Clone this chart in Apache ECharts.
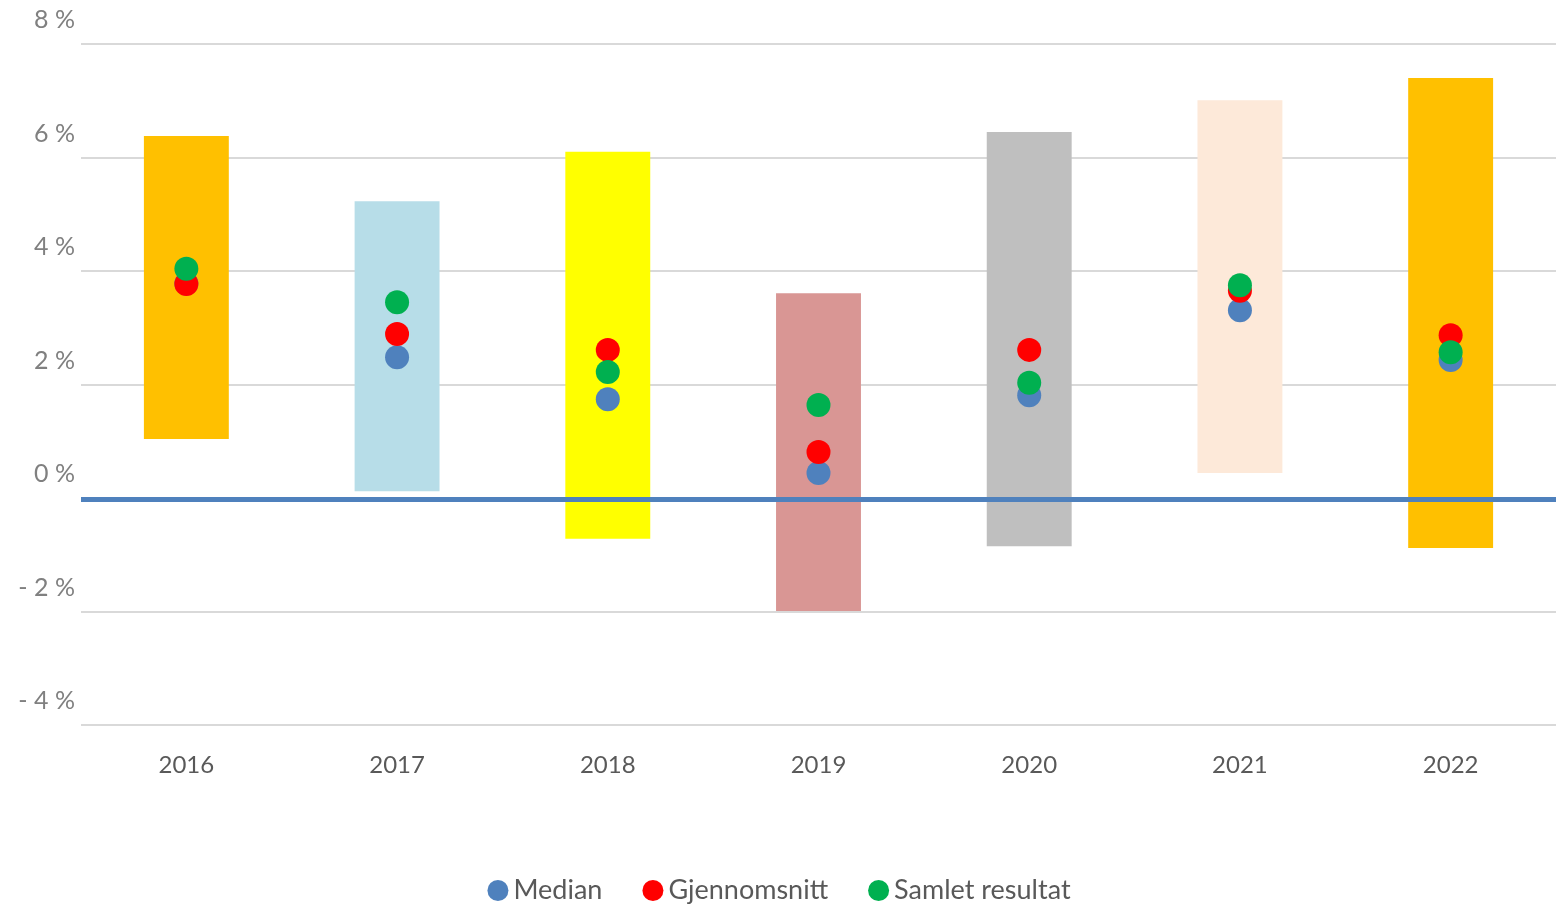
<!DOCTYPE html>
<html lang="no">
<head>
    <meta charset="UTF-8">
    <title>Resultat per år</title>
    <script src="https://cdn.jsdelivr.net/npm/echarts@6/dist/echarts.min.js"></script>
    <style>
        html, body { margin: 0; padding: 0; background: #fff; }
        #chart { width: 1558px; height: 909px; }
    </style>
</head>
<body>
<div id="chart"></div>
<script type="text/javascript">
    // data (percent)
    var years = ['2016', '2017', '2018', '2019', '2020', '2021', '2022'];
    var rangeLow = [1.04, 0.12, -0.72, -1.99, -0.85, 0.44, -0.88];
    var rangeHigh = [6.38, 5.23, 6.10, 3.61, 6.45, 7.01, 7.40];
    var barColors = ['#FFC000', '#B7DDE8', '#FFFF00', '#D99694', '#BFBFBF', '#FDE9D9', '#FFC000'];
    var median = [3.78, 2.48, 1.74, 0.44, 1.81, 3.31, 2.43];
    var snitt = [3.77, 2.89, 2.61, 0.81, 2.61, 3.65, 2.87];
    var samlet = [4.04, 3.45, 2.22, 1.64, 2.03, 3.75, 2.57];

    var chart = echarts.init(document.getElementById('chart'));

    var rangeData = years.map(function (y, i) {
        return [i, rangeLow[i], rangeHigh[i]];
    });

    function renderRange(params, api) {
        var i = api.value(0);
        var lo = api.coord([i, api.value(1)]);
        var hi = api.coord([i, api.value(2)]);
        var w = api.size([1, 0])[0] * 0.403;
        return {
            type: 'rect',
            shape: { x: lo[0] - w / 2, y: hi[1], width: w, height: lo[1] - hi[1] },
            style: { fill: barColors[i] }
        };
    }

    function dotSeries(name, values, color, z) {
        return {
            name: name,
            type: 'scatter',
            data: values,
            symbol: 'circle',
            symbolSize: 24,
            itemStyle: { color: color, opacity: 1 },
            z: z
        };
    }

    var option = {
        animation: false,
        textStyle: { fontFamily: 'Lato' },
        grid: { left: 81, right: 2, top: 44, bottom: 184, containLabel: false, outerBoundsMode: 'none' },
        legend: {
            bottom: 0,
            left: 'center',
            itemGap: 40,
            itemWidth: 21,
            itemHeight: 21,
            icon: 'circle',
            textStyle: { fontSize: 27, color: '#595959', fontFamily: 'Lato' },
            data: ['Median', 'Gjennomsnitt', 'Samlet resultat']
        },
        xAxis: {
            type: 'category',
            data: years,
            axisLine: { show: false },
            axisTick: { show: false },
            axisLabel: { fontSize: 24, color: '#595959', margin: 28 }
        },
        yAxis: {
            type: 'value',
            min: -4,
            max: 8,
            interval: 2,
            axisLine: { show: false },
            axisTick: { show: false },
            splitLine: { lineStyle: { color: '#D9D9D9', width: 2 } },
            axisLabel: {
                fontSize: 25,
                color: '#808080',
                margin: 6,
                verticalAlign: 'bottom',
                lineHeight: 48,
                formatter: function (v) {
                    return v < 0 ? '- ' + (-v) + ' %' : v + ' %';
                }
            }
        },
        series: [
            {
                name: 'Spenn',
                type: 'custom',
                renderItem: renderRange,
                encode: { x: 0, y: [1, 2] },
                data: rangeData,
                z: 1,
                markLine: {
                    silent: true,
                    symbol: 'none',
                    label: { show: false },
                    lineStyle: { color: '#4F81BD', width: 5, type: 'solid' },
                    data: [{ yAxis: -0.02 }],
                    z: 3
                }
            },
            dotSeries('Median', median, '#4F81BD', 4),
            dotSeries('Gjennomsnitt', snitt, '#FF0000', 5),
            dotSeries('Samlet resultat', samlet, '#00B050', 6)
        ]
    };

    chart.setOption(option);
</script>
</body>
</html>
